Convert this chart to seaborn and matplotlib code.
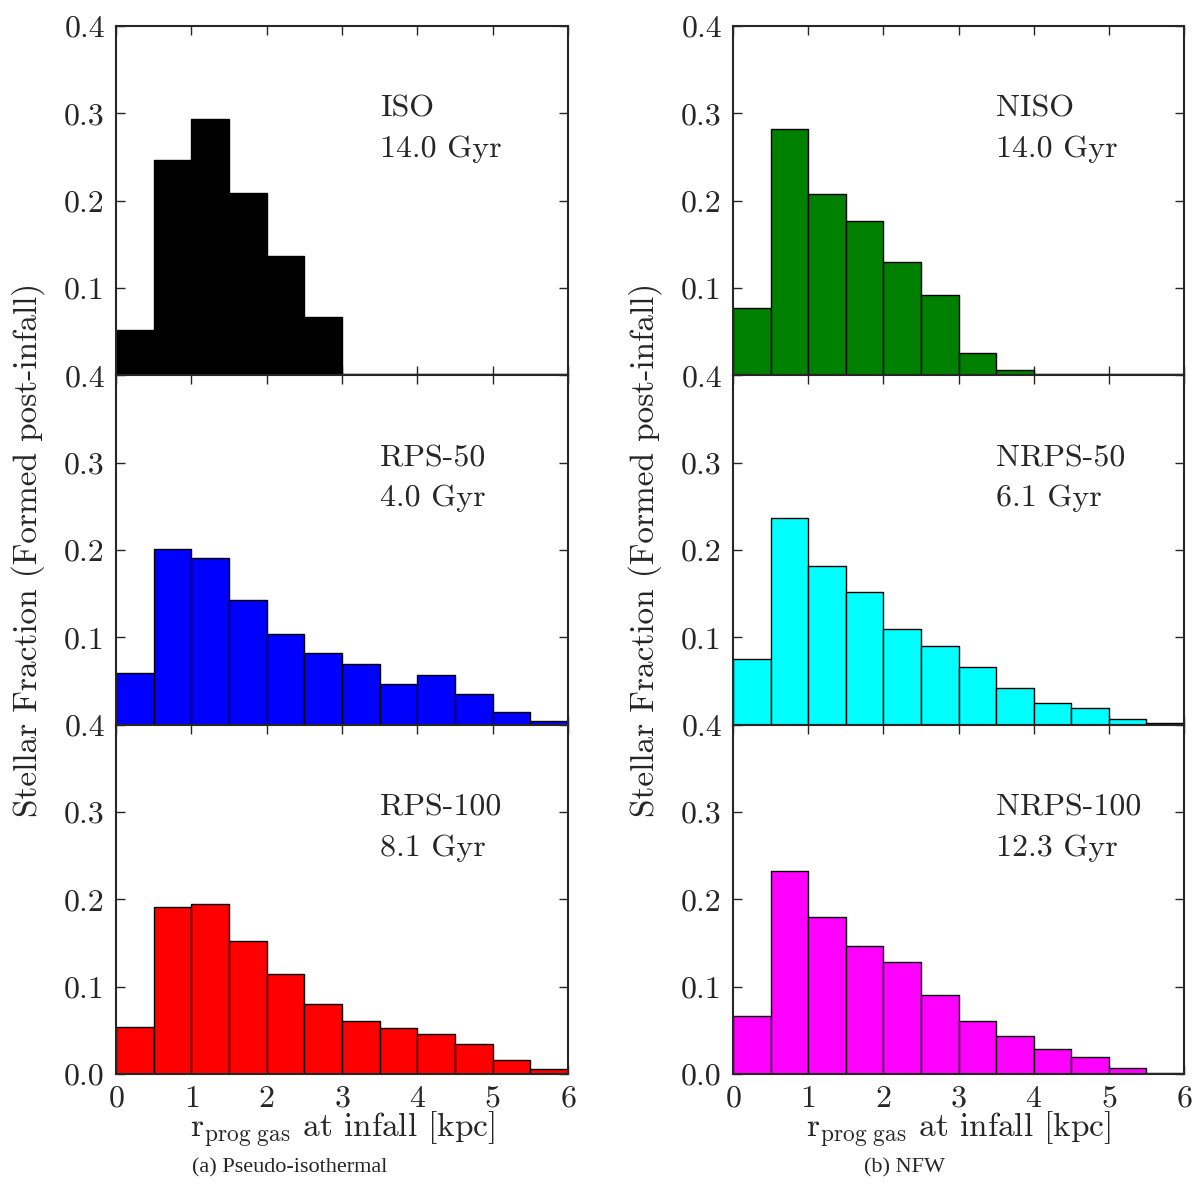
import numpy as np
import pandas as pd
import matplotlib
matplotlib.use("Agg")
import matplotlib.pyplot as plt
import seaborn as sns

# ---- data ----
bin_edges = [0.0, 0.5, 1.0, 1.5, 2.0, 2.5, 3.0, 3.5, 4.0, 4.5, 5.0, 5.5, 6.0]
iso     = [0.052, 0.246, 0.293, 0.209, 0.137, 0.067, 0.002, 0.001, 0.001, 0.001, 0.001, 0.001]
rps50   = [0.059, 0.201, 0.191, 0.143, 0.104, 0.082, 0.069, 0.047, 0.057, 0.035, 0.014, 0.004]
rps100  = [0.054, 0.191, 0.195, 0.152, 0.115, 0.080, 0.061, 0.053, 0.046, 0.034, 0.016, 0.006]
niso    = [0.077, 0.282, 0.208, 0.177, 0.130, 0.092, 0.026, 0.006, 0.001, 0.001, 0.001, 0.001]
nrps50  = [0.075, 0.237, 0.182, 0.152, 0.109, 0.090, 0.066, 0.042, 0.025, 0.019, 0.006, 0.0015]
nrps100 = [0.066, 0.233, 0.180, 0.147, 0.128, 0.091, 0.061, 0.043, 0.029, 0.020, 0.007, 0.0015]

left_names  = ["ISO", "RPS-50", "RPS-100"]
left_times  = ["14.0 Gyr", "4.0 Gyr", "8.1 Gyr"]
right_names = ["NISO", "NRPS-50", "NRPS-100"]
right_times = ["14.0 Gyr", "6.1 Gyr", "12.3 Gyr"]
left_colors  = ["black", "blue", "red"]
right_colors = ["green", "cyan", "magenta"]
captions = ["(a) Pseudo-isothermal", "(b) NFW"]

# ---- style ----
sns.set_style("ticks")
plt.rcParams.update({
    "font.family": "serif",
    "font.serif": ["cmr10"],
    "mathtext.fontset": "cm",
    "axes.formatter.use_mathtext": True,
    "axes.linewidth": 1.5,
    "xtick.direction": "in",
    "ytick.direction": "in",
    "xtick.top": True,
    "ytick.right": True,
    "xtick.major.size": 6.5,
    "ytick.major.size": 6.5,
    "xtick.major.width": 1.0,
    "ytick.major.width": 1.0,
})

fig = plt.figure(figsize=(12, 11.86), dpi=100)

W, H = 1200, 1186
top_px, bot_px = 26, 1074
panel_h = (bot_px - top_px) / 3
cols = [(116, 568), (733, 1184)]

centers = [(a + b) / 2 for a, b in zip(bin_edges[:-1], bin_edges[1:])]

col_data = [
    ([iso, rps50, rps100], left_names, left_times, left_colors),
    ([niso, nrps50, nrps100], right_names, right_times, right_colors),
]

FS = 23
for ci, (datas, names, times, colors) in enumerate(col_data):
    x0, x1 = cols[ci]
    for ri in range(3):
        y_top = top_px + ri * panel_h
        ax = fig.add_axes([x0 / W, 1 - (y_top + panel_h) / H, (x1 - x0) / W, panel_h / H])
        df = pd.DataFrame({"r": centers, "frac": datas[ri]})
        sns.histplot(data=df, x="r", weights="frac", bins=list(bin_edges), ax=ax,
                     color=colors[ri], edgecolor="black", linewidth=1.0,
                     alpha=1.0, stat="count")
        ax.set_xlim(0, 6)
        ax.set_ylim(0, 0.4)
        ax.set_xticks(range(0, 7))
        if ri < 2:
            ax.set_yticks([0.1, 0.2, 0.3, 0.4])
            ax.set_xticklabels([])
            ax.set_xlabel("")
        else:
            ax.set_yticks([0.0, 0.1, 0.2, 0.3, 0.4])
            ax.set_xlabel(r"$\mathrm{r_{prog\ gas}}$ at infall [kpc]", fontsize=FS + 1, labelpad=-2)
        ax.yaxis.set_major_formatter(matplotlib.ticker.FormatStrFormatter("%.1f"))
        ax.tick_params(labelsize=FS, pad=8)
        if ri == 1:
            ax.set_ylabel("Stellar Fraction (Formed post-infall)", fontsize=FS + 1, labelpad=14)
        else:
            ax.set_ylabel("")
        ax.text(3.5, 0.296, names[ri], fontsize=FS, va="baseline", ha="left")
        ax.text(3.5, 0.250, times[ri], fontsize=FS, va="baseline", ha="left")
        for s in ax.spines.values():
            s.set_visible(True)
            s.set_linewidth(1.5)

fig.text(290 / W, 1 - 1168 / H, captions[0], fontsize=16, family="Liberation Serif",
         ha="center", va="center")
fig.text(905 / W, 1 - 1168 / H, captions[1], fontsize=16, family="Liberation Serif",
         ha="center", va="center")

fig.savefig("out.png", dpi=100)
